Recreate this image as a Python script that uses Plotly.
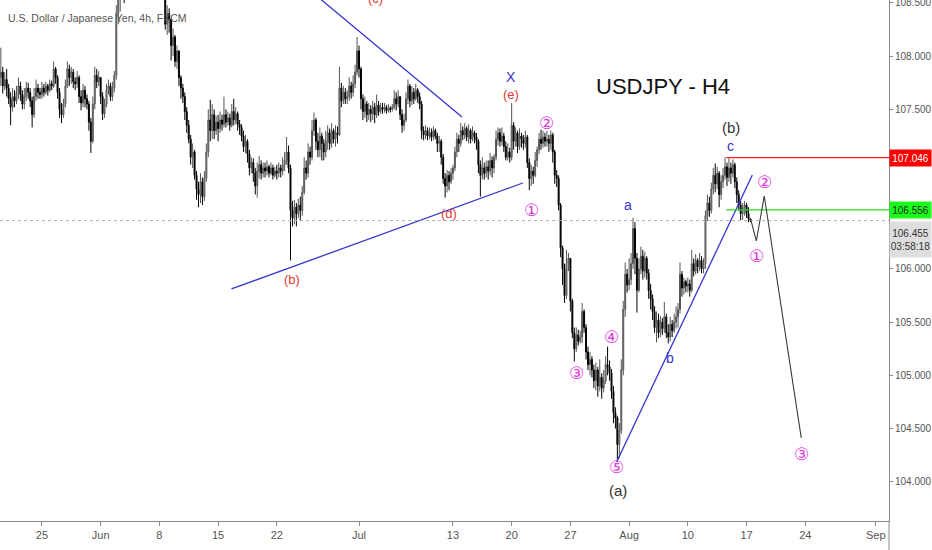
import numpy as np
import pandas as pd
import plotly.graph_objects as go

# ---------------- data ----------------
BASE_DAY = "2020-05-25"          # first tick ("25")
FIRST_DAY, LAST_DAY = "2020-05-19", "2020-08-17"
FIRST_SLOT = 3                    # first visible bar: 12:00 on the first day
BAR_HOURS = [0, 4, 8, 12, 16, 20]
open0 = 107.80

close = [
    107.85, 107.72, 107.78,
    107.70, 107.60, 107.52, 107.62, 107.58, 107.66,
    107.72, 107.64, 107.55, 107.62, 107.70, 107.66,
    107.58, 107.45, 107.62, 107.70, 107.66, 107.64,
    107.70, 107.66, 107.72, 107.68, 107.74, 107.72,
    107.88, 107.80, 107.66, 107.50, 107.45, 107.55,
    107.72, 107.88, 107.80, 107.85, 107.76, 107.74,
    107.80, 107.62, 107.56, 107.68, 107.60, 107.55,
    107.38, 107.20, 107.55, 107.82, 107.76, 107.80,
    107.62, 107.46, 107.55, 107.68, 107.72, 107.62,
    107.70, 107.82, 108.40, 108.55, 108.62, 108.68,
    108.62, 108.70, 108.85, 108.80, 108.90, 108.88,
    108.92, 108.98, 109.05, 108.95, 109.10, 109.15,
    109.25, 109.40, 109.35, 109.70, 109.55, 109.60,
    109.30, 109.10, 108.80, 108.30, 108.40, 108.35,
    108.10, 108.18, 107.95, 108.05, 107.80, 107.70,
    107.62, 107.48, 107.35, 107.22, 107.05, 107.10,
    106.88, 106.75, 106.70, 106.82, 106.68, 106.85,
    107.10, 107.40, 107.30, 107.45, 107.30, 107.38,
    107.32, 107.40, 107.36, 107.45, 107.38, 107.42,
    107.35, 107.48, 107.40, 107.46, 107.36, 107.33,
    107.25, 107.15, 107.20, 107.08, 106.95, 107.00,
    106.90, 106.78, 106.92, 106.98, 106.90, 106.95,
    106.92, 106.96, 106.90, 106.95, 106.88, 106.92,
    106.90, 106.95, 106.92, 106.98, 107.02, 107.10,
    106.95, 106.55, 106.48, 106.58, 106.52, 106.60,
    106.55, 106.72, 106.95, 106.90, 107.10, 107.05,
    107.30, 107.40, 107.20, 107.12, 107.25, 107.18,
    107.10, 107.20, 107.28, 107.18, 107.30, 107.22,
    107.28, 107.26, 107.70, 107.58, 107.66, 107.60,
    107.62, 107.72, 107.66, 107.74, 107.85, 108.05,
    107.88, 107.60, 107.48, 107.55, 107.45, 107.50,
    107.46, 107.52, 107.45, 107.54, 107.48, 107.52,
    107.50, 107.52, 107.49, 107.51, 107.50, 107.52,
    107.60, 107.55, 107.62, 107.45, 107.35, 107.40,
    107.60, 107.72, 107.58, 107.66, 107.60, 107.68,
    107.62, 107.55, 107.30, 107.26, 107.30, 107.25,
    107.28, 107.24, 107.30, 107.25, 107.18, 107.20,
    107.05, 106.85, 106.78, 106.88, 106.82, 106.90,
    106.95, 107.10, 107.22, 107.18, 107.30, 107.26,
    107.32, 107.24, 107.30, 107.22, 107.28, 107.24,
    107.20, 106.98, 106.88, 106.95, 106.90, 106.96,
    106.92, 107.02, 106.95, 107.05, 107.22, 107.28,
    107.20, 107.25, 107.15, 107.05, 107.10, 107.05,
    107.35, 107.20, 107.28, 107.15, 107.25, 107.22,
    107.18, 107.24, 107.00, 106.85, 106.92, 106.88,
    107.02, 107.12, 107.22, 107.18, 107.24, 107.20,
    107.22, 107.18, 107.26, 107.10, 106.88, 106.85,
    106.60, 106.20, 106.00, 105.75, 106.05, 106.10,
    105.70, 105.40, 105.25, 105.38, 105.32, 105.36,
    105.60, 105.45, 105.22, 105.10, 105.15, 105.05,
    104.95, 105.05, 104.90, 104.98, 104.88, 104.95,
    105.10, 105.08, 105.02, 104.85, 104.65, 104.60,
    104.35, 104.48, 105.05, 105.62, 105.95, 105.85,
    105.90, 106.05, 106.38, 106.10, 105.80, 106.00,
    106.12, 105.98, 106.10, 105.96, 105.80, 105.72,
    105.60, 105.45, 105.52, 105.40, 105.50, 105.44,
    105.55, 105.40, 105.36, 105.48, 105.42, 105.50,
    105.55, 105.62, 105.95, 105.82, 105.88, 105.84,
    105.86, 105.80, 106.05, 105.98, 106.08, 106.02,
    106.08, 106.00, 106.05, 106.50, 106.62, 106.55,
    106.75, 106.88, 106.80, 106.90, 106.70, 106.82,
    106.88, 106.96, 106.86, 106.95, 106.90, 106.98,
    106.82, 106.70, 106.60, 106.52, 106.58, 106.60,
    106.52, 106.47, 106.455,
]

high = [
    108.08, 107.90, 107.85,
    107.88, 107.74, 107.66, 107.70, 107.68, 107.72,
    107.80, 107.76, 107.68, 107.70, 107.76, 107.75,
    107.70, 107.62, 107.70, 107.78, 107.74, 107.70,
    107.76, 107.74, 107.76, 107.74, 107.78, 107.77,
    107.95, 107.90, 107.82, 107.70, 107.56, 107.60,
    107.78, 107.95, 107.92, 107.90, 107.88, 107.80,
    107.86, 107.82, 107.68, 107.74, 107.72, 107.64,
    107.58, 107.42, 107.62, 107.90, 107.88, 107.86,
    107.80, 107.66, 107.60, 107.74, 107.78, 107.75,
    107.76, 107.86, 108.48, 108.60, 108.70, 108.75,
    108.78, 108.80, 108.95, 108.90, 109.00, 108.95,
    109.00, 109.05, 109.12, 109.10, 109.18, 109.20,
    109.30, 109.50, 109.45, 109.85, 109.75, 109.68,
    109.60, 109.35, 109.15, 108.85, 108.48, 108.45,
    108.30, 108.26, 108.20, 108.10, 108.05, 107.82,
    107.74, 107.66, 107.52, 107.40, 107.26, 107.18,
    107.12, 106.92, 106.82, 106.90, 106.86, 106.92,
    107.18, 107.50, 107.59, 107.55, 107.50, 107.44,
    107.45, 107.48, 107.45, 107.62, 107.50, 107.48,
    107.46, 107.55, 107.60, 107.52, 107.48, 107.40,
    107.36, 107.30, 107.26, 107.22, 107.12, 107.05,
    107.04, 106.95, 107.00, 107.06, 107.02, 107.00,
    107.00, 107.02, 106.98, 107.00, 106.98, 106.96,
    106.98, 107.00, 106.98, 107.05, 107.10, 107.24,
    107.16, 106.98, 106.64, 106.65, 106.62, 106.66,
    106.68, 106.78, 107.05, 107.02, 107.18, 107.15,
    107.40, 107.47, 107.42, 107.28, 107.33, 107.28,
    107.22, 107.30, 107.35, 107.32, 107.37, 107.32,
    107.35, 107.34, 107.90, 107.75, 107.72, 107.70,
    107.68, 107.80, 107.76, 107.82, 107.92, 108.18,
    108.10, 107.90, 107.64, 107.62, 107.58, 107.56,
    107.54, 107.58, 107.56, 107.64, 107.58, 107.56,
    107.56, 107.56, 107.54, 107.55, 107.53, 107.55,
    107.68, 107.66, 107.68, 107.60, 107.50, 107.46,
    107.66, 107.78, 107.74, 107.72, 107.70, 107.74,
    107.70, 107.66, 107.58, 107.34, 107.35, 107.33,
    107.33, 107.32, 107.34, 107.32, 107.28, 107.25,
    107.22, 107.08, 106.90, 106.93, 106.92, 106.95,
    106.98, 107.15, 107.28, 107.26, 107.37, 107.34,
    107.37, 107.34, 107.36, 107.32, 107.34, 107.30,
    107.28, 107.22, 107.02, 107.05, 107.00, 107.02,
    107.02, 107.09, 107.06, 107.08, 107.30, 107.33,
    107.32, 107.33, 107.28, 107.20, 107.18, 107.14,
    107.56, 107.38, 107.33, 107.30, 107.32, 107.28,
    107.26, 107.30, 107.26, 107.04, 106.98, 106.96,
    107.10, 107.15, 107.28, 107.31, 107.30, 107.28,
    107.30, 107.26, 107.30, 107.28, 107.12, 106.93,
    106.88, 106.62, 106.22, 106.05, 106.18, 106.15,
    106.02, 105.72, 105.45, 105.45, 105.43, 105.42,
    105.68, 105.62, 105.48, 105.27, 105.22, 105.18,
    105.10, 105.12, 105.08, 105.15, 105.02, 105.05,
    105.18, 105.27, 105.14, 105.06, 104.90, 104.70,
    104.62, 104.55, 105.15, 105.70, 106.06, 106.00,
    106.10, 106.15, 106.48, 106.44, 106.15, 106.10,
    106.21, 106.18, 106.16, 106.12, 106.00, 105.86,
    105.76, 105.65, 105.60, 105.58, 105.56, 105.54,
    105.69, 105.58, 105.48, 105.55, 105.52, 105.58,
    105.65, 105.68, 106.06, 105.98, 105.92, 105.90,
    105.92, 105.90, 106.18, 106.10, 106.14, 106.10,
    106.15, 106.12, 106.10, 106.55, 106.70, 106.68,
    106.81, 106.95, 106.99, 106.96, 106.92, 106.88,
    106.95, 107.05, 107.00, 107.04, 107.00, 107.03,
    107.00, 106.86, 106.74, 106.64, 106.62, 106.64,
    106.62, 106.58, 106.48,
]

low = [
    107.72, 107.65, 107.68,
    107.62, 107.55, 107.35, 107.48, 107.52, 107.55,
    107.60, 107.58, 107.50, 107.50, 107.58, 107.60,
    107.52, 107.33, 107.42, 107.58, 107.60, 107.60,
    107.60, 107.62, 107.64, 107.63, 107.66, 107.68,
    107.70, 107.74, 107.60, 107.42, 107.37, 107.42,
    107.52, 107.70, 107.72, 107.74, 107.70, 107.68,
    107.70, 107.56, 107.49, 107.52, 107.52, 107.50,
    107.30, 107.09, 107.18, 107.50, 107.70, 107.72,
    107.55, 107.40, 107.42, 107.52, 107.64, 107.58,
    107.58, 107.66, 107.78, 108.30, 108.42, 108.55,
    108.50, 108.56, 108.66, 108.70, 108.76, 108.80,
    108.82, 108.88, 108.90, 108.85, 108.92, 109.05,
    109.10, 109.20, 109.25, 109.30, 109.45, 109.50,
    109.20, 109.00, 108.70, 108.25, 108.20, 108.22,
    107.96, 108.00, 107.90, 107.88, 107.72, 107.60,
    107.56, 107.40, 107.28, 107.18, 106.98, 106.95,
    106.84, 106.65, 106.58, 106.62, 106.60, 106.64,
    106.82, 107.05, 107.20, 107.22, 107.22, 107.26,
    107.20, 107.28, 107.30, 107.33, 107.33, 107.35,
    107.30, 107.33, 107.35, 107.36, 107.30, 107.26,
    107.20, 107.10, 107.09, 107.00, 106.88, 106.90,
    106.82, 106.70, 106.67, 106.85, 106.84, 106.86,
    106.86, 106.88, 106.86, 106.88, 106.84, 106.86,
    106.84, 106.86, 106.86, 106.88, 106.92, 106.98,
    106.90, 106.08, 106.40, 106.42, 106.40, 106.48,
    106.45, 106.50, 106.70, 106.84, 106.86, 106.98,
    107.02, 107.25, 107.12, 107.05, 107.05, 107.02,
    107.02, 107.05, 107.12, 107.12, 107.14, 107.18,
    107.15, 107.18, 107.25, 107.52, 107.55, 107.55,
    107.55, 107.58, 107.60, 107.62, 107.70, 107.82,
    107.80, 107.50, 107.40, 107.42, 107.38, 107.40,
    107.38, 107.40, 107.37, 107.42, 107.44, 107.46,
    107.46, 107.47, 107.46, 107.47, 107.47, 107.48,
    107.50, 107.49, 107.52, 107.40, 107.28, 107.30,
    107.38, 107.55, 107.52, 107.54, 107.55, 107.58,
    107.56, 107.50, 107.22, 107.21, 107.22, 107.21,
    107.22, 107.20, 107.21, 107.22, 107.10, 107.10,
    106.98, 106.80, 106.67, 106.72, 106.74, 106.80,
    106.84, 106.92, 107.05, 107.10, 107.15, 107.21,
    107.22, 107.20, 107.18, 107.18, 107.20, 107.18,
    107.12, 106.90, 106.68, 106.84, 106.84, 106.86,
    106.84, 106.88, 106.86, 106.90, 107.02, 107.16,
    107.15, 107.16, 107.10, 107.02, 107.02, 107.00,
    107.02, 107.12, 107.15, 107.09, 107.12, 107.14,
    107.12, 107.14, 106.95, 106.74, 106.78, 106.80,
    106.86, 106.96, 107.08, 107.12, 107.14, 107.15,
    107.15, 107.10, 107.12, 107.00, 106.80, 106.77,
    106.55, 106.11, 105.85, 105.68, 105.72, 105.98,
    105.60, 105.35, 105.13, 105.22, 105.28, 105.30,
    105.30, 105.40, 105.15, 105.05, 105.00, 104.98,
    104.88, 104.86, 104.80, 104.85, 104.78, 104.84,
    104.92, 105.00, 104.95, 104.78, 104.55, 104.50,
    104.19, 104.22, 104.45, 105.00, 105.55, 105.78,
    105.80, 105.85, 106.00, 105.95, 105.59, 105.78,
    105.95, 105.90, 105.92, 105.90, 105.72, 105.62,
    105.52, 105.40, 105.31, 105.35, 105.36, 105.38,
    105.40, 105.35, 105.30, 105.32, 105.36, 105.40,
    105.44, 105.45, 105.58, 105.74, 105.76, 105.78,
    105.78, 105.74, 105.78, 105.93, 105.95, 105.96,
    105.98, 105.96, 105.96, 106.00, 106.45, 106.49,
    106.52, 106.70, 106.72, 106.75, 106.58, 106.65,
    106.76, 106.84, 106.78, 106.82, 106.80, 106.86,
    106.76, 106.62, 106.55, 106.46, 106.46, 106.50,
    106.48, 106.44, 106.44,
]

tick_dates = ["2020-05-25", "2020-06-01", "2020-06-08", "2020-06-15", "2020-06-22",
              "2020-07-01", "2020-07-13", "2020-07-20", "2020-07-27", "2020-08-03",
              "2020-08-10", "2020-08-17", "2020-08-24", "2020-09-01"]
tick_labels = ["25", "Jun", "8", "15", "22", "Jul", "13", "20", "27", "Aug",
               "10", "17", "24", "Sep"]
price_ticks = [104.0, 104.5, 105.0, 105.5, 106.0, 107.5, 108.0, 108.5]
edge_tick = 108.5   # label that sits on the top edge of the chart

resistance_level = 107.046
support_level = 106.556
last_price = 106.455
countdown = "03:58:18"

# ---------------- helpers ----------------
def tx(date, hour=0.0):
    """trading-day position (weekends removed) relative to BASE_DAY"""
    return float(np.busday_count(BASE_DAY, date)) + hour / 24.0

days = pd.bdate_range(FIRST_DAY, LAST_DAY)
all_x = [tx(d.strftime("%Y-%m-%d"), h) for d in days for h in BAR_HOURS]
bar_x = all_x[FIRST_SLOT:FIRST_SLOT + len(close)]
opens = [open0] + close[:-1]
hi = [max(h, o, c) for h, o, c in zip(high, opens, close)]
lo = [min(l, o, c) for l, o, c in zip(low, opens, close)]

X0, X1 = -3.57, 72.13
Y0, Y1 = 103.631, 108.528

F = "Liberation Sans, Arial, sans-serif"
RED = "#e53935"
BLUE = "#3535d2"
MAG = "#e03ce0"
DARK = "#333333"

fig = go.Figure()

fig.add_trace(go.Candlestick(
    x=bar_x, open=opens, high=hi, low=lo, close=close,
    increasing=dict(line=dict(color="#555555", width=1), fillcolor="#a8a8a8"),
    decreasing=dict(line=dict(color="#000000", width=1), fillcolor="#000000"),
    whiskerwidth=0, showlegend=False, hoverinfo="skip"))

def seg(points, color, width=1.3, dash="solid"):
    fig.add_trace(go.Scatter(
        x=[tx(d, h) for d, h, _ in points], y=[p for _, _, p in points],
        mode="lines", line=dict(color=color, width=width, dash=dash),
        showlegend=False, hoverinfo="skip"))

# trend lines
seg([("2020-06-25", 19.0, 108.53), ("2020-07-13", 18.5, 107.428)], BLUE)
seg([("2020-06-16", 3.4, 105.812), ("2020-07-20", 22.8, 106.808)], BLUE)
seg([("2020-07-30", 22.5, 104.186), ("2020-08-17", 11.8, 106.883)], BLUE)

# current price dotted line
fig.add_trace(go.Scatter(x=[X0, X1], y=[last_price, last_price], mode="lines",
                         line=dict(color="#b5b5b5", width=1, dash="dot"),
                         showlegend=False, hoverinfo="skip"))
# horizontal levels
fig.add_trace(go.Scatter(x=[tx("2020-08-13", 6.7), X1], y=[resistance_level] * 2, mode="lines",
                         line=dict(color="#ff1a1a", width=1.2), showlegend=False, hoverinfo="skip"))
fig.add_trace(go.Scatter(x=[tx("2020-08-13", 6.7), X1], y=[support_level] * 2, mode="lines",
                         line=dict(color="#22dd22", width=1.2), showlegend=False, hoverinfo="skip"))

# projected path
seg([("2020-08-17", 7.7, 106.48), ("2020-08-17", 20.0, 106.263),
     ("2020-08-18", 12.2, 106.686), ("2020-08-21", 15.8, 104.412)], "#3a3a3a", width=1.1)

ann = []
def label(text, date, hour, price, color, size=13, family=F, yref="y"):
    ann.append(dict(text=text, x=tx(date, hour), y=price, xref="x", yref=yref,
                    showarrow=False, font=dict(color=color, size=size, family=family),
                    xanchor="center", yanchor="middle"))

label("(c)", "2020-07-02", 9, 1 + 1 / 521, RED, yref="paper")
label("X", "2020-07-17", 22, 107.80, BLUE, size=14)
label("(e)", "2020-07-17", 22, 107.64, RED)
label("(b)", "2020-06-23", 8, 105.897, RED)
label("(d)", "2020-07-10", 16, 106.526, RED)
label("a", "2020-07-31", 21, 106.60, BLUE, size=14)
label("b", "2020-08-06", 11, 105.16, BLUE, size=14)
label("c", "2020-08-13", 15, 107.16, BLUE, size=14)
label("(b)", "2020-08-13", 17, 107.325, DARK, size=15)
label("(a)", "2020-07-31", 0.5, 103.914, DARK, size=15)
CF = "DejaVu Sans"
label("\u2460", "2020-07-21", 17, 106.555, MAG, 17, CF)
label("\u2461", "2020-07-23", 0, 107.372, MAG, 17, CF)
label("\u2462", "2020-07-27", 13, 105.023, MAG, 17, CF)
label("\u2463", "2020-07-30", 12, 105.361, MAG, 17, CF)
label("\u2464", "2020-07-30", 22.5, 104.139, MAG, 17, CF)
label("\u2461", "2020-08-18", 12, 106.818, MAG, 17, CF)
label("\u2460", "2020-08-17", 20, 106.122, MAG, 17, CF)
label("\u2462", "2020-08-21", 15.6, 104.261, MAG, 17, CF)

# chart titles
ann.append(dict(text="U.S. Dollar / Japanese Yen, 4h, FXCM", xref="paper", yref="paper",
                x=6 / 891, y=1 - 18 / 521, xanchor="left", yanchor="middle", showarrow=False,
                font=dict(color="#555555", size=10.5, family=F)))
ann.append(dict(text="USDJPY - H4", xref="paper", yref="paper",
                x=664 / 891, y=1 - 87 / 521, xanchor="center", yanchor="middle", showarrow=False,
                font=dict(color="#111111", size=22, family=F)))

# price-axis boxes
BOXF = dict(size=10, family=F)
ann.append(dict(text=f"{edge_tick:.3f}", xref="paper", yref="y", x=1.0, y=edge_tick,
                xanchor="left", yanchor="middle", xshift=4, showarrow=False,
                font=dict(color="#555555", **BOXF)))
ann.append(dict(text=f"{resistance_level:.3f}", xref="paper", yref="y", x=1.0, y=resistance_level,
                xanchor="left", yanchor="middle", showarrow=False, bgcolor="#ff0000",
                width=39, height=14, borderpad=1, font=dict(color="white", **BOXF)))
ann.append(dict(text=f"{support_level:.3f}", xref="paper", yref="y", x=1.0, y=support_level,
                xanchor="left", yanchor="middle", showarrow=False, bgcolor="#1aff1a",
                width=39, height=14, borderpad=1, font=dict(color="#1e1e1e", **BOXF)))
ann.append(dict(text=f"{last_price:.3f}<br>{countdown}", xref="paper", yref="y", x=1.0, y=last_price,
                xanchor="left", yanchor="top", showarrow=False, bgcolor="#dedede",
                width=39, height=33, borderpad=1, font=dict(color="#333333", **BOXF)))

fig.update_layout(
    width=932, height=550, margin=dict(l=0, r=41, t=0, b=29),
    paper_bgcolor="white", plot_bgcolor="white", showlegend=False,
    annotations=ann,
    xaxis=dict(range=[X0, X1], tickvals=[tx(d) for d in tick_dates], ticktext=tick_labels,
               showgrid=False, zeroline=False, showline=True, linecolor="#8a8a8a", linewidth=1,
               ticks="outside", ticklen=4, tickcolor="#8a8a8a",
               tickfont=dict(size=11, color="#555555", family=F),
               rangeslider=dict(visible=False), fixedrange=True),
    yaxis=dict(range=[Y0, Y1], side="right", tickvals=price_ticks,
               ticktext=["" if v == edge_tick else f"{v:.3f}" for v in price_ticks],
               showgrid=False, zeroline=False, showline=True, linecolor="#8a8a8a", linewidth=1,
               ticks="outside", ticklen=3, tickcolor="#8a8a8a",
               tickfont=dict(size=10, color="#555555", family=F), fixedrange=True),
    shapes=[dict(type="line", xref="paper", yref="paper", x0=1, x1=1, y0=-29 / 521, y1=0,
                 line=dict(color="#8a8a8a", width=1))],
)

fig.write_html("out.html", config={"displayModeBar": False},
               post_script="document.body.style.margin='0';")
